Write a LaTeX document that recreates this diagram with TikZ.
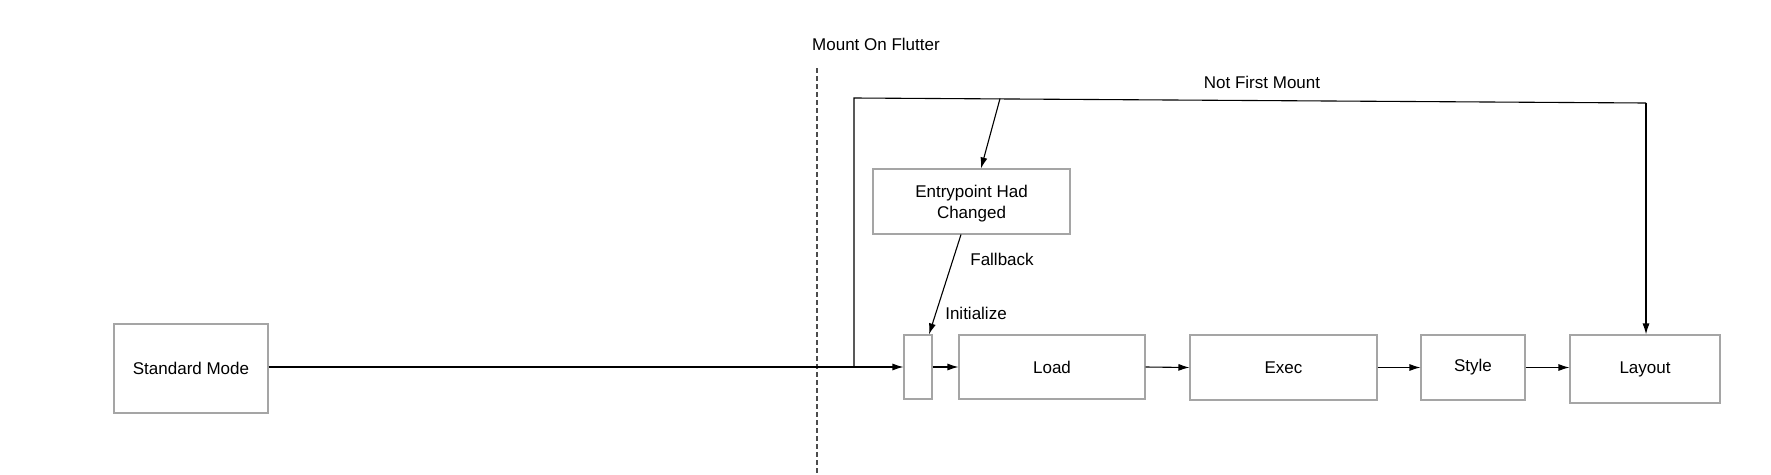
\documentclass[tikz,border=0pt]{standalone}
\usepackage{fontspec}
\setmainfont{Liberation Sans}
\usetikzlibrary{arrows.meta}
\definecolor{boxgray}{RGB}{165,165,165}
\tikzset{
  box/.style={draw=boxgray, line width=1.1pt, inner sep=0pt, align=center, font=\fontsize{17}{20.5}\selectfont},
  conn/.style={line width=1.1pt, draw=black},
  arr/.style={conn, -{Latex[length=11pt,width=7pt]}},
  lbl/.style={inner sep=0pt, font=\fontsize{17}{20}\selectfont}
}
\begin{document}
\begin{tikzpicture}[x=1pt,y=-1pt]
\useasboundingbox (0,0) rectangle (1771,474);
\node[box, minimum width=154pt, minimum height=89pt] (sm) at (191,368.5) {\raisebox{-1.5pt}{Standard Mode}};
\node[box, minimum width=28pt, minimum height=64pt] (sb) at (918,367) {};
\node[box, minimum width=186pt, minimum height=64pt] (load) at (1052,367) {\raisebox{-1.5pt}{Load}};
\node[box, minimum width=187pt, minimum height=65pt] (exec) at (1283.5,367.5) {\raisebox{-1.5pt}{Exec}};
\node[box, minimum width=104pt, minimum height=65pt] (style) at (1473,367.5) {\raisebox{-1.5pt}{Style}};
\node[box, minimum width=150pt, minimum height=68pt] (layout) at (1645,369) {\raisebox{-1.5pt}{Layout}};
\node[box, minimum width=197pt, minimum height=65pt] (entry) at (971.5,201.5) {};
\node[align=center, inner sep=0pt, font=\fontsize{17}{20.5}\selectfont] (entrytxt) at ([yshift=-2pt]entry.center) {Entrypoint Had\\Changed};

\node[lbl, anchor=west] (mof) at (812,44) {Mount On Flutter};
\node[lbl] (nfm) at (1262,82) {Not First Mount};
\node[lbl] (fb) at (1002,259) {Fallback};
\node[lbl] (init) at (976,313) {Initialize};

\draw[dashed, dash pattern=on 5pt off 3pt, draw=black!70, line width=1.1pt] (817,68) coordinate (d1) -- (817,474) coordinate (d2);

\coordinate (j) at (854,367);
\coordinate (tl) at (854,98);
\coordinate (tr) at (1646,103);
\coordinate (ta) at (1000,98.6);

\draw[arr] (sm.east |- j) -- (sb.west |- j);
\draw[conn] (j) -- (tl) -- (tr);
\draw[arr] (tr) -- (layout.north -| tr);
\draw[arr] (ta) -- (entry.north -| 981,0);
\draw[arr] (entry.south -| 961,0) -- (sb.north -| 929,0);
\draw[arr] (sb.east) -- (load.west);
\draw[arr] (load.east) -- (exec.west);
\draw[arr] (exec.east) -- (style.west);
\draw[arr] (style.east) -- (layout.west |- style.east);
\end{tikzpicture}
\end{document}
